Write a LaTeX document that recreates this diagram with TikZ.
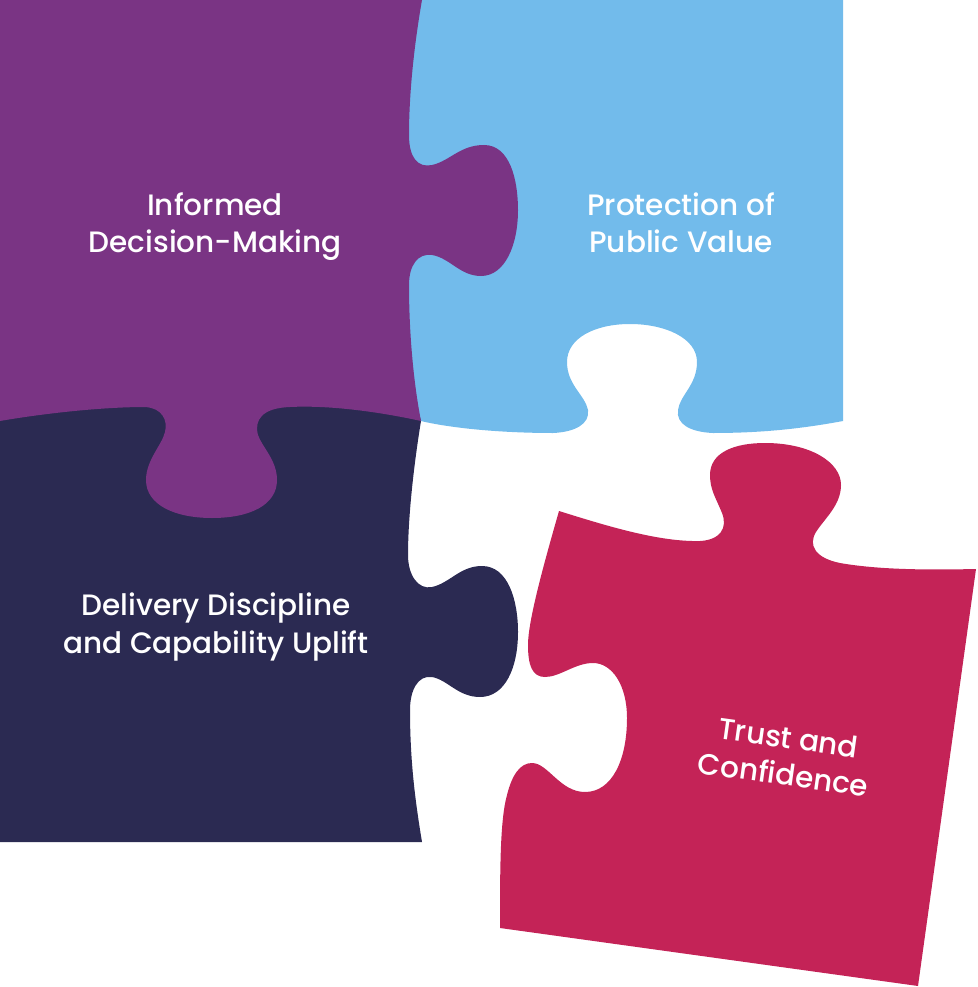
\documentclass[tikz,border=0pt]{standalone}
\usepackage{fontspec}
\IfFontExistsTF{Poppins Medium}{\setmainfont{Poppins Medium}}{\setmainfont{Poppins}}

\definecolor{plum}{HTML}{7A3484}
\definecolor{sky}{HTML}{72BBEB}
\definecolor{navy}{HTML}{2B2A52}
\definecolor{berry}{HTML}{C42357}

\tikzset{piecetext/.style = {text = white, align = center,
    font = \fontsize{29.5}{37}\selectfont}}

\begin{document}
\begin{tikzpicture}[x = 1pt, y = -1pt]
  \useasboundingbox (0, 0) rectangle (977, 987);

  % top right piece, hole at the bottom
  \fill[sky] (400, 0) -- (843, 0) -- (843, 421) .. controls (800, 429) and
  (760, 433) .. (713, 433) .. controls (690, 432) and (676, 424) .. (678, 410)
  .. controls (680, 395) and (697, 385) .. (697, 362) .. controls (697, 338)
  and (665, 324) .. (630, 324) .. controls (595, 324) and (567, 338) ..
  (567, 362) .. controls (567, 385) and (585, 395) .. (588, 410) .. controls
  (590, 424) and (575, 432) .. (553, 433) .. controls (500, 433) and
  (450, 428) .. (421, 421) -- (400, 421) -- cycle;

  % bottom left piece, knob to the right
  \fill[navy] (0, 400) -- (415, 400) -- (421, 421) .. controls (413, 470) and
  (408, 520) .. (408, 555) .. controls (408, 575) and (418, 590) .. (432, 587)
  .. controls (450, 583) and (460, 566) .. (482, 566) .. controls (508, 566)
  and (518, 600) .. (518, 632) .. controls (518, 668) and (505, 697) ..
  (480, 697) .. controls (458, 697) and (448, 680) .. (432, 677) .. controls
  (418, 675) and (410, 690) .. (410, 710) .. controls (410, 760) and
  (415, 800) .. (422, 842) -- (0, 842) -- cycle;

  % top left piece, knobs to the right and down
  \fill[plum] (0, 0) -- (422, 0) .. controls (415, 40) and (409, 90) ..
  (409, 135) .. controls (409, 158) and (418, 168) .. (432, 165) .. controls
  (450, 161) and (460, 145) .. (484, 145) .. controls (510, 145) and
  (518, 180) .. (518, 210) .. controls (518, 245) and (505, 276) .. (481, 276)
  .. controls (460, 276) and (450, 258) .. (432, 255) .. controls (418, 253)
  and (409, 265) .. (409, 285) .. controls (409, 330) and (413, 380) ..
  (421, 421) .. controls (380, 412) and (330, 405) .. (290, 407) .. controls
  (262, 408) and (254, 420) .. (258, 435) .. controls (262, 447) and
  (277, 460) .. (277, 480) .. controls (277, 505) and (250, 518) .. (212, 518)
  .. controls (175, 518) and (146, 505) .. (146, 480) .. controls (146, 460)
  and (162, 445) .. (165, 432) .. controls (168, 420) and (162, 408) ..
  (145, 407) .. controls (100, 407) and (40, 414) .. (0, 421) -- cycle;

  % loose piece, turned
  \fill[berry] (559, 511) .. controls (610, 527) and (660, 542) .. (700, 541)
  .. controls (720, 540) and (728, 528) .. (722, 513) .. controls (716, 498)
  and (710, 490) .. (710, 475) .. controls (710, 452) and (735, 443) ..
  (765, 443) .. controls (810, 443) and (841, 462) .. (841, 485) .. controls
  (841, 505) and (825, 518) .. (816, 532) .. controls (808, 545) and
  (815, 558) .. (840, 563) .. controls (880, 570) and (930, 570) .. (976, 569)
  -- (918, 986) -- (500, 928) .. controls (500, 870) and (500, 820) ..
  (507, 795) .. controls (512, 775) and (520, 763) .. (532, 763) .. controls
  (548, 763) and (560, 792) .. (585, 792) .. controls (612, 792) and
  (627, 760) .. (627, 718) .. controls (627, 685) and (612, 663) .. (593, 663)
  .. controls (575, 663) and (560, 677) .. (545, 677) .. controls (532, 677)
  and (528, 665) .. (528, 645) .. controls (528, 620) and (545, 560) ..
  (559, 511) -- cycle;

  \node[piecetext] (informed) at (215, 227) {Informed\\Decision-Making};
  \node[piecetext] (protection) at (681, 223) {Protection of\\Public Value};
  \node[piecetext] (delivery) at (216, 627)
  {Delivery Discipline\\and Capability Uplift};
  \node[piecetext, rotate = -8] (trust) at (786, 756) {Trust and\\Confidence};
\end{tikzpicture}
\end{document}
